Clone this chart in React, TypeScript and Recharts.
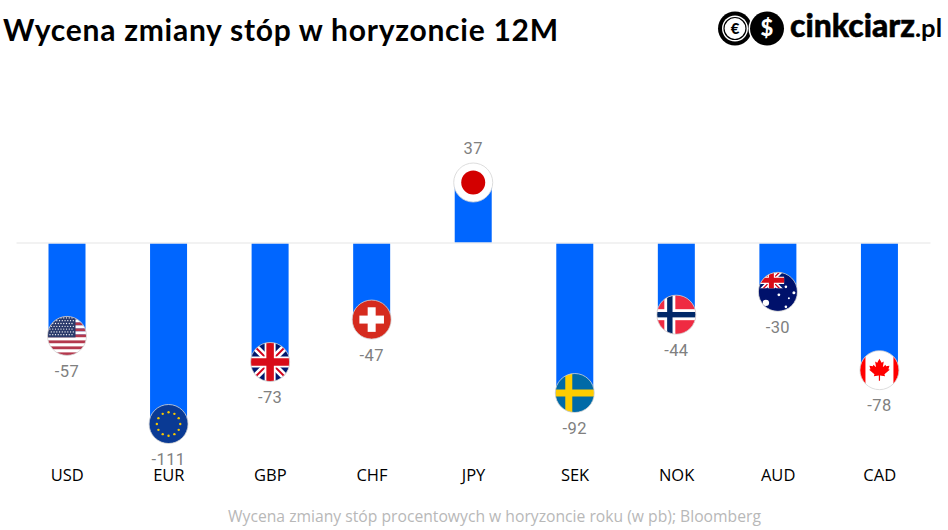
import React from 'react';
import { BarChart, Bar, XAxis, YAxis, ReferenceLine, LabelList } from 'recharts';

const codes = ['USD', 'EUR', 'GBP', 'CHF', 'JPY', 'SEK', 'NOK', 'AUD', 'CAD'];
const values = [-57, -111, -73, -47, 37, -92, -44, -30, -78];
const data = codes.map((code, i) => ({ code, value: values[i] }));

const TITLE = 'Wycena zmiany stóp w horyzoncie 12M';
const CAPTION = 'Wycena zmiany stóp procentowych w horyzoncie roku (w pb); Bloomberg';

const R = 19.5;

const UnionJack = ({ s = 1 }: { s?: number }) => (
  <g>
    <rect x={-R} y={-R} width={2 * R} height={2 * R} fill="#00186e" />
    <path d={`M${-R * s},${-R * s}L${R * s},${R * s}M${-R * s},${R * s}L${R * s},${-R * s}`} stroke="#fff" strokeWidth={7 * s} />
    <path d={`M${-R * s},${-R * s}L${R * s},${R * s}M${-R * s},${R * s}L${R * s},${-R * s}`} stroke="#d0021b" strokeWidth={2 * s} />
    <path d={`M${-R * s},0H${R * s}M0,${-R * s}V${R * s}`} stroke="#fff" strokeWidth={11 * s} />
    <path d={`M${-R * s},0H${R * s}M0,${-R * s}V${R * s}`} stroke="#d80c18" strokeWidth={7.5 * s} />
  </g>
);

function flagBody(code: string) {
  switch (code) {
    case 'USD': {
      const stripes = [];
      for (let i = 0; i < 13; i++) {
        stripes.push(<rect key={i} x={-R} y={-R + (i * 2 * R) / 13} width={2 * R} height={(2 * R) / 13 + 0.2} fill={i % 2 ? '#fff' : '#b4384d'} />);
      }
      const stars = [];
      for (let r = 0; r < 7; r++) {
        for (let c = 0; c < 9; c++) {
          stars.push(<circle key={`${r}-${c}`} cx={-R + 2.5 + c * 2.75 + (r % 2 ? 1.3 : 0)} cy={-R + 1.5 + r * 2.8} r={0.65} fill="#fff" />);
        }
      }
      return (
        <g>
          {stripes}
          <rect x={-R} y={-R} width={28} height={21} fill="#2b3a6b" />
          {stars}
        </g>
      );
    }
    case 'EUR': {
      const stars = [];
      for (let i = 0; i < 12; i++) {
        const a = (i * Math.PI) / 6;
        stars.push(<circle key={i} cx={11.7 * Math.sin(a)} cy={-11.7 * Math.cos(a)} r={1.2} fill="#f7c600" />);
      }
      return (
        <g>
          <rect x={-R} y={-R} width={2 * R} height={2 * R} fill="#0a3a94" />
          {stars}
        </g>
      );
    }
    case 'GBP':
      return <UnionJack />;
    case 'CHF':
      return (
        <g>
          <rect x={-R} y={-R} width={2 * R} height={2 * R} fill="#d52b1e" />
          <rect x={-12.3} y={-4} width={24.6} height={8} fill="#fff" />
          <rect x={-4} y={-12.3} width={8} height={24.6} fill="#fff" />
        </g>
      );
    case 'JPY':
      return (
        <g>
          <rect x={-R} y={-R} width={2 * R} height={2 * R} fill="#fff" />
          <circle r={12} fill="#d30000" />
        </g>
      );
    case 'SEK':
      return (
        <g>
          <rect x={-R} y={-R} width={2 * R} height={2 * R} fill="#006aa7" />
          <rect x={-R} y={-3.5} width={2 * R} height={7} fill="#fecc00" />
          <rect x={-9.5} y={-R} width={7} height={2 * R} fill="#fecc00" />
        </g>
      );
    case 'NOK':
      return (
        <g>
          <rect x={-R} y={-R} width={2 * R} height={2 * R} fill="#ef2b42" />
          <rect x={-R} y={-5.5} width={2 * R} height={11} fill="#fff" />
          <rect x={-12} y={-R} width={11} height={2 * R} fill="#fff" />
          <rect x={-R} y={-2.7} width={2 * R} height={5.4} fill="#002868" />
          <rect x={-9.2} y={-R} width={5.4} height={2 * R} fill="#002868" />
        </g>
      );
    case 'AUD': {
      const stars: [number, number, number][] = [
        [-12, 11, 3.2],
        [8, -5, 1.3],
        [16, 1, 1.5],
        [1, 3, 1.4],
        [11, 6.5, 1],
        [8, 15, 1.3],
      ];
      return (
        <g>
          <rect x={-R} y={-R} width={2 * R} height={2 * R} fill="#00116b" />
          <svg x={-R} y={-R} width={26} height={16} viewBox={`${-R} ${-R * 0.62} ${2 * R} ${R * 1.24}`} overflow="hidden">
            <UnionJack />
          </svg>
          {stars.map(([x, y, r], i) => (
            <circle key={i} cx={x} cy={y} r={r} fill="#fff" />
          ))}
        </g>
      );
    }
    case 'CAD':
      return (
        <g>
          <rect x={-R} y={-R} width={2 * R} height={2 * R} fill="#fff" />
          <rect x={-R} y={-R} width={5.5} height={2 * R} fill="#f00" />
          <rect x={R - 5.5} y={-R} width={5.5} height={2 * R} fill="#f00" />
          <path
            d="M0,-11.5L2.2,-7.5L4.3,-8.6L3.4,-2.8L6,-5.4L6.6,-3.9L10,-4.5L9,-1L10.3,-0.3L5,4L5.6,6L0.6,5.3V10.5H-0.6V5.3L-5.6,6L-5,4L-10.3,-0.3L-9,-1L-10,-4.5L-6.6,-3.9L-6,-5.4L-3.4,-2.8L-4.3,-8.6L-2.2,-7.5Z"
            fill="#f00"
          />
        </g>
      );
    default:
      return null;
  }
}

const FlagAndValue = (props: any) => {
  const { x, y, width, height, value, index } = props;
  const cx = x + width / 2;
  const cy = value >= 0 ? Math.min(y, y + height) : Math.max(y, y + height);
  const code = codes[index];
  const clipId = `flag-${code}`;
  return (
    <g>
      <g transform={`translate(${cx},${cy})`}>
        <clipPath id={clipId}>
          <circle r={R} />
        </clipPath>
        <g clipPath={`url(#${clipId})`}>{flagBody(code)}</g>
        <circle r={R} fill="none" stroke="#d4d4d4" strokeWidth={0.8} />
      </g>
      <text
        x={cx}
        y={value >= 0 ? cy - 34 : cy + 35}
        dy="0.36em"
        textAnchor="middle"
        fontFamily="Roboto, sans-serif"
        fontSize={16.5}
        letterSpacing={0.4}
        fill="#808080"
      >
        {value < 0 ? `-${Math.abs(value)}` : value}
      </text>
    </g>
  );
};

const Logo = () => (
  <svg width={238} height={56} style={{ position: 'absolute', left: 710, top: 0 }}>
    <circle cx={25} cy={28.5} r={17} fill="#000" />
    <circle cx={25} cy={28.5} r={13} fill="#fff" />
    <circle cx={25} cy={28.5} r={11} fill="none" stroke="#000" strokeWidth={1.2} />
    <text x={25} y={34} textAnchor="middle" fontFamily="Lato, sans-serif" fontWeight={900} fontSize={15} fill="#000">€</text>
    <circle cx={57} cy={28.5} r={18.5} fill="#fff" />
    <circle cx={57} cy={28.5} r={17} fill="#000" />
    <text x={57} y={36} textAnchor="middle" fontFamily="Lato, sans-serif" fontWeight={900} fontSize={22} fill="#fff">$</text>
    <text x={80} y={37} fontFamily="Lato, sans-serif" fontWeight={900} fontSize={32} fill="#000" stroke="#000" strokeWidth={0.5} textLength={125} lengthAdjust="spacingAndGlyphs">cinkciarz</text>
    <text x={205} y={37} fontFamily="Lato, sans-serif" fontWeight={700} fontSize={24} fill="#000" textLength={27} lengthAdjust="spacingAndGlyphs">.pl</text>
  </svg>
);

export default function App() {
  return (
    <div style={{ position: 'absolute', left: 0, top: 0, width: 948, height: 530, background: '#fff', overflow: 'hidden' }}>
      <div style={{ position: 'absolute', left: 3, top: 10, fontFamily: 'Lato, sans-serif', fontWeight: 700, fontSize: 30, letterSpacing: 0.74, lineHeight: '38px', color: '#000', whiteSpace: 'nowrap' }}>
        {TITLE}
      </div>
      <Logo />
      <BarChart width={948} height={530} data={data} margin={{ top: 145, right: 17.5, bottom: 45, left: 16.5 }} barSize={37}>
        <YAxis hide domain={[-130, 60]} />
        <XAxis
          dataKey="code"
          axisLine={false}
          tickLine={false}
          interval={0}
          height={30}
          tick={{ fontFamily: '"Open Sans", sans-serif', fontSize: 16.5, fill: '#000' }}
          tickMargin={8}
        />
        <ReferenceLine y={0} stroke="#eeeeee" strokeWidth={1.5} />
        <Bar dataKey="value" fill="#0066ff" isAnimationActive={false}>
          <LabelList dataKey="value" content={FlagAndValue} />
        </Bar>
      </BarChart>
      <div style={{ position: 'absolute', left: 0, width: 989, top: 505, textAlign: 'center', fontFamily: '"Open Sans", sans-serif', fontSize: 15.7, lineHeight: '22px', color: '#b8b8b8', whiteSpace: 'nowrap' }}>
        {CAPTION}
      </div>
    </div>
  );
}
